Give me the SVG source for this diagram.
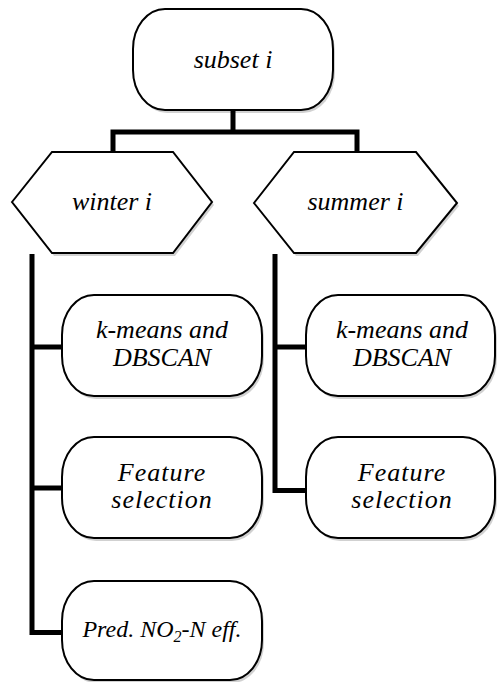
<svg xmlns="http://www.w3.org/2000/svg" width="497" height="682" viewBox="0 0 497 682">
<rect width="497" height="682" fill="#fff"/>
<g id="connectors" fill="none" stroke="#000" stroke-width="5">
<path d="M233 110 V132 M110.5 132 H359.5 M113 132 V152 M357 132 V152"/>
<path d="M32 254 V632.5 H62 M32 347 H62 M32 488 H62"/>
<path d="M275 254 V490.5 H306 M275 347 H306"/>
</g>
<g id="subset">
<rect x="135" y="12" width="200" height="101" rx="32" ry="40" fill="#000" opacity="0.18"/>
<rect x="133" y="9" width="200" height="101" rx="32" ry="40" fill="#fff" stroke="#000" stroke-width="2"/>
<text x="233" y="68" font-family="Liberation Serif" font-size="26" font-style="italic" text-anchor="middle">subset i</text>
</g>
<g id="winter">
<polygon points="14,205 54,155 175,155 214,205 175,256 54,256" fill="#000" opacity="0.18"/>
<polygon points="12,202 52,152 173,152 212,202 173,253 52,253" fill="#fff" stroke="#000" stroke-width="2"/>
<text x="112" y="210" font-family="Liberation Serif" font-size="26" font-style="italic" text-anchor="middle">winter i</text>
</g>
<g id="summer">
<polygon points="256,206 296,155 418,155 459,206 418,256 296,256" fill="#000" opacity="0.18"/>
<polygon points="254,203 294,152 416,152 457,203 416,253 294,253" fill="#fff" stroke="#000" stroke-width="2"/>
<text x="355.5" y="210" font-family="Liberation Serif" font-size="26" font-style="italic" text-anchor="middle">summer i</text>
</g>
<g id="winter-kmeans">
<rect x="64" y="298" width="200" height="101" rx="32" ry="40" fill="#000" opacity="0.18"/>
<rect x="62" y="295" width="200" height="101" rx="32" ry="40" fill="#fff" stroke="#000" stroke-width="2"/>
<text x="162" y="338" font-family="Liberation Serif" font-size="26" font-style="italic" text-anchor="middle">k-means and</text>
<text x="162" y="366" font-family="Liberation Serif" font-size="26" font-style="italic" text-anchor="middle">DBSCAN</text>
</g>
<g id="winter-feature">
<rect x="64" y="440" width="200" height="101" rx="32" ry="40" fill="#000" opacity="0.18"/>
<rect x="62" y="437" width="200" height="101" rx="32" ry="40" fill="#fff" stroke="#000" stroke-width="2"/>
<text x="162" y="481" letter-spacing="1" font-family="Liberation Serif" font-size="26" font-style="italic" text-anchor="middle">Feature</text>
<text x="162" y="508" letter-spacing="1" font-family="Liberation Serif" font-size="26" font-style="italic" text-anchor="middle">selection</text>
</g>
<g id="winter-pred">
<rect x="64" y="584" width="200" height="99" rx="32" ry="40" fill="#000" opacity="0.18"/>
<rect x="62" y="581" width="200" height="99" rx="32" ry="40" fill="#fff" stroke="#000" stroke-width="2"/>
<text x="162" y="637" font-family="Liberation Serif" font-size="24" font-style="italic" text-anchor="middle">Pred. NO<tspan font-size="16" dy="5">2</tspan><tspan dy="-5">-N eff.</tspan></text>
</g>
<g id="summer-kmeans">
<rect x="308" y="298" width="189" height="101" rx="32" ry="40" fill="#000" opacity="0.18"/>
<rect x="306" y="295" width="189" height="101" rx="32" ry="40" fill="#fff" stroke="#000" stroke-width="2"/>
<text x="402" y="338" font-family="Liberation Serif" font-size="26" font-style="italic" text-anchor="middle">k-means and</text>
<text x="402" y="366" font-family="Liberation Serif" font-size="26" font-style="italic" text-anchor="middle">DBSCAN</text>
</g>
<g id="summer-feature">
<rect x="308" y="440" width="189" height="101" rx="32" ry="40" fill="#000" opacity="0.18"/>
<rect x="306" y="437" width="189" height="101" rx="32" ry="40" fill="#fff" stroke="#000" stroke-width="2"/>
<text x="402" y="481" letter-spacing="1" font-family="Liberation Serif" font-size="26" font-style="italic" text-anchor="middle">Feature</text>
<text x="402" y="508" letter-spacing="1" font-family="Liberation Serif" font-size="26" font-style="italic" text-anchor="middle">selection</text>
</g>
</svg>
